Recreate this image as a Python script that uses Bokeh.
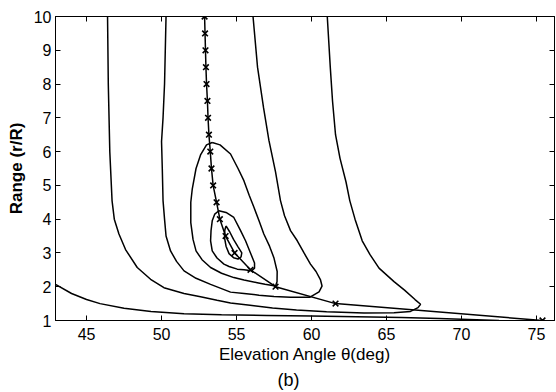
from bokeh.plotting import figure
from bokeh.models import LinearAxis, FixedTicker, Range1d, Title
from bokeh.embed import file_html
from bokeh.resources import INLINE

x_ticks = [45, 50, 55, 60, 65, 70, 75]
y_ticks = [1, 2, 3, 4, 5, 6, 7, 8, 9, 10]

# optimum elevation angle per range (x markers)
ridge_range = [10, 9.5, 9, 8.5, 8, 7.5, 7, 6.5, 6, 5.5, 5, 4.5, 4, 3.5, 3, 2.5, 2, 1.5, 1]
ridge_theta = [52.87, 52.9, 52.93, 52.96, 53.0, 53.06, 53.1, 53.16, 53.25, 53.33, 53.44,
               53.67, 53.89, 54.27, 54.87, 55.93, 57.6, 61.6, 75.4]

# contour lines
loop1_theta = [54.3, 54.55, 54.8, 55.1, 55.35, 55.3, 55.1, 54.8, 54.5, 54.3, 54.2, 54.22, 54.3]
loop1_range = [3.8, 3.62, 3.4, 3.18, 3.0, 2.88, 2.82, 2.86, 2.98, 3.2, 3.45, 3.68, 3.8]

loop2_theta = [53.82, 54.3, 54.82, 55.27, 55.6, 55.93, 56.2, 56.2, 56.0, 55.5, 55.05, 54.5,
               54.16, 53.7, 53.38, 53.27, 53.3, 53.38, 53.55, 53.82]
loop2_range = [4.25, 4.2, 4.05, 3.66, 3.36, 3.0, 2.7, 2.55, 2.47, 2.5, 2.52, 2.6,
               2.67, 2.85, 3.06, 3.36, 3.66, 3.95, 4.15, 4.25]

loop3_theta = [53.38, 53.9, 54.6, 55.1, 55.49, 55.85, 56.16, 56.5, 56.82, 57.2, 57.49, 57.71,
               57.7, 57.6, 56.9, 56.38, 55.5, 54.82, 54.0, 53.27, 52.7, 52.3, 52.1, 51.95,
               51.95, 52.05, 52.3, 52.6, 53.0, 53.38]
loop3_range = [6.27, 6.2, 5.93, 5.5, 5.14, 4.7, 4.35, 3.95, 3.56, 3.2, 2.86, 2.45,
               2.15, 2.02, 2.07, 2.12, 2.2, 2.27, 2.4, 2.57, 2.8, 3.06, 3.4, 3.9,
               4.5, 4.9, 5.5, 5.9, 6.2, 6.27]

u1_theta = [50.3, 50.25, 50.2, 50.1, 50.0, 50.05, 50.1, 50.2, 50.3, 50.6, 51.0, 51.5, 52.3,
            53.27, 54.6, 55.5, 56.5, 57.5, 58.6, 59.9, 60.5, 60.7, 60.6, 60.3, 59.93, 59.5,
            59.05, 58.6, 58.2, 57.93, 57.6, 57.16, 56.8, 56.4, 56.1]
u1_range = [10, 9, 8, 7, 6.3, 5.5, 4.55, 4.0, 3.5, 3.06, 2.75, 2.47, 2.25,
            2.07, 1.84, 1.8, 1.75, 1.71, 1.69, 1.69, 1.85, 2.02, 2.2, 2.45, 2.67, 3.0,
            3.36, 3.66, 4.1, 4.55, 5.4, 6.33, 7.3, 8.5, 10]

u2_theta = [46.4, 46.45, 46.55, 46.7, 46.85, 47.16, 47.6, 48.38, 49.27, 50.16, 51.5, 52.6,
            53.7, 54.6, 55.9, 57.4, 59.0, 61.0, 63.5, 65.5, 66.6, 67.1, 67.27, 66.9, 66.2,
            65.5, 64.5, 63.9, 63.38, 62.9, 62.55, 62.3, 61.9, 61.6, 61.4, 61.25, 61.05]
u2_range = [10, 8, 6, 4.55, 4.0, 3.56, 3.1, 2.57, 2.22, 1.97, 1.8, 1.7,
            1.6, 1.52, 1.45, 1.37, 1.31, 1.26, 1.22, 1.23, 1.27, 1.38, 1.48, 1.62, 1.9,
            2.15, 2.55, 2.95, 3.36, 4.0, 4.55, 5.1, 5.8, 6.5, 7.5, 8.5, 10]

outer_theta = [42.93, 44.0, 45.0, 45.9, 47.5, 49.3, 51.5, 54.0, 57.0, 60.0, 63.0, 66.0,
               68.5, 70.5, 72.5]
outer_range = [2.07, 1.8, 1.62, 1.5, 1.36, 1.27, 1.2, 1.17, 1.15, 1.13, 1.11, 1.09,
               1.06, 1.03, 1.0]

FONT = "Liberation Sans"

p = figure(width=556, height=392, output_backend="svg", toolbar_location=None,
           x_range=Range1d(42.93, 76.2), y_range=Range1d(1, 10),
           min_border_left=55, min_border_right=2, min_border_top=16, min_border_bottom=72,
           x_axis_label="Elevation Angle θ(deg)", y_axis_label="Range (r/R)")
p.background_fill_color = "white"
p.border_fill_color = "white"
p.outline_line_color = "black"
p.grid.visible = False

for ax, ticks in ((p.xaxis[0], x_ticks), (p.yaxis[0], y_ticks)):
    ax.ticker = FixedTicker(ticks=ticks)
    ax.major_tick_in = 5
    ax.major_tick_out = 0
    ax.minor_tick_in = 0
    ax.minor_tick_out = 0
    ax.axis_line_color = "black"
    ax.major_tick_line_color = "black"
    ax.major_label_text_font = FONT
    ax.major_label_text_font_size = "16px"
    ax.major_label_text_color = "black"
    ax.axis_label_text_font = FONT
    ax.axis_label_text_font_size = "17px"
    ax.axis_label_text_font_style = "normal"
    ax.axis_label_text_color = "black"

p.xaxis[0].major_label_standoff = 7
p.xaxis[0].axis_label_standoff = 2
p.yaxis[0].major_label_standoff = 4
p.yaxis[0].axis_label_standoff = 5
p.yaxis[0].axis_label_text_font_style = "bold"

for loc, ticks in (("above", x_ticks), ("right", y_ticks)):
    ax = LinearAxis(ticker=FixedTicker(ticks=ticks), major_tick_in=5, major_tick_out=0,
                    minor_tick_in=0, minor_tick_out=0, major_label_standoff=0,
                    major_label_text_font_size="0px", major_label_text_color=None,
                    axis_line_color="black")
    p.add_layout(ax, loc)

for xs, ys in ((loop1_theta, loop1_range), (loop2_theta, loop2_range),
               (loop3_theta, loop3_range), (u1_theta, u1_range),
               (u2_theta, u2_range), (outer_theta, outer_range)):
    p.line(xs, ys, line_color="black", line_width=1.5)

p.line(ridge_theta, ridge_range, line_color="black", line_width=1.5)
p.scatter(ridge_theta, ridge_range, marker="x", size=8, line_color="black", line_width=1.6)

p.add_layout(Title(text="(b)", align="left", offset=222, standoff=3,
                   text_font=FONT, text_font_size="18px", text_font_style="normal",
                   text_color="black"), "below")

open("out.html", "w").write(file_html(p, INLINE))
